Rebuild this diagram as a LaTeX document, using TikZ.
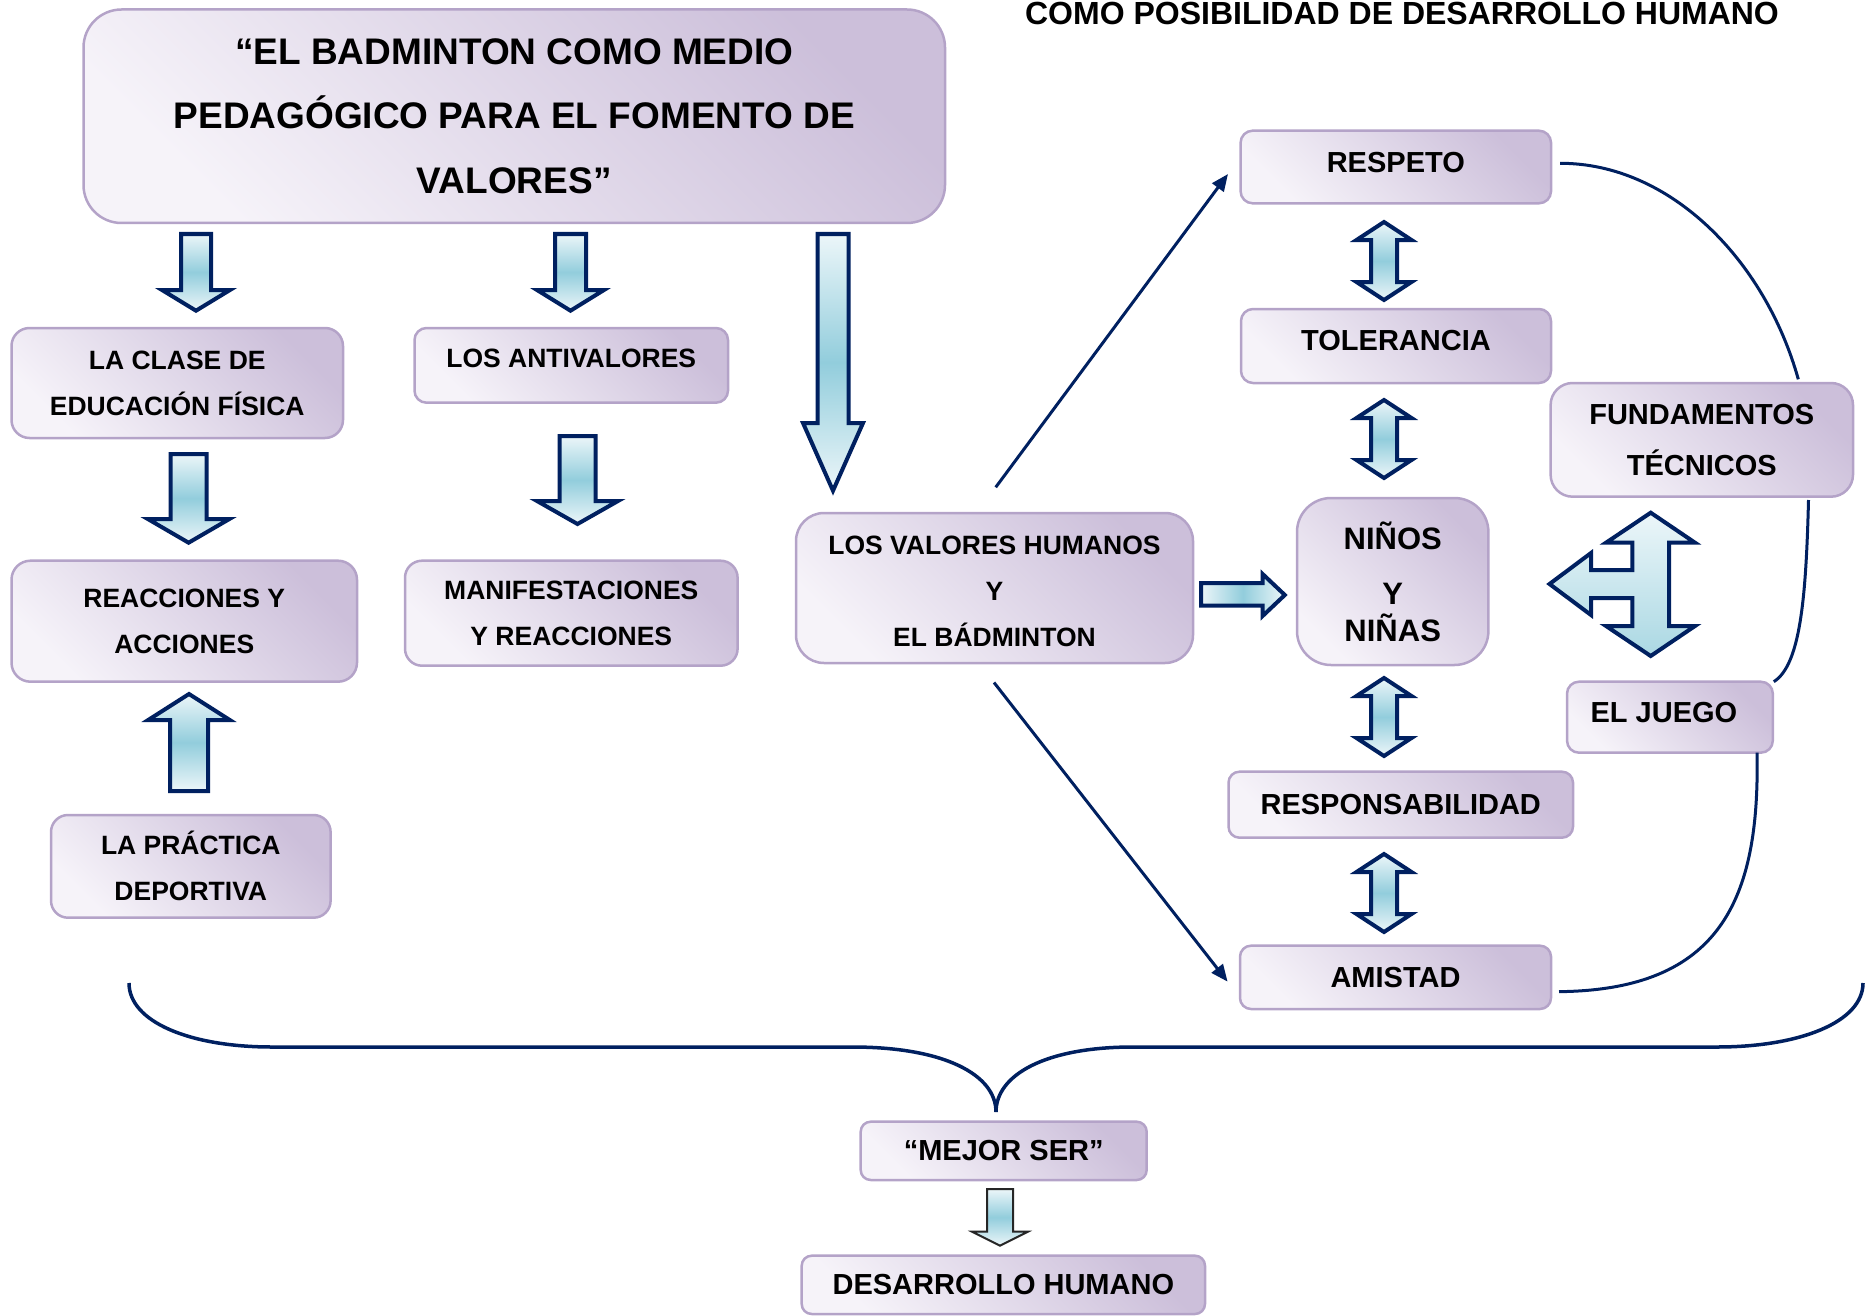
\documentclass[tikz,border=0pt]{standalone}
\usepackage{fontspec}
\setmainfont{Liberation Sans}
\usetikzlibrary{arrows.meta,calc}
\definecolor{navy}{RGB}{0,32,96}
\definecolor{boxdark}{RGB}{204,191,218}
\definecolor{boxlight}{RGB}{246,243,249}
\definecolor{boxline}{RGB}{180,163,200}
\definecolor{arrlight}{RGB}{236,246,249}
\definecolor{arrdark}{RGB}{146,205,220}
\definecolor{arrbot}{RGB}{170,216,227}
\newcommand\blkarr[6]{% cx, ybase, yheadbase, ytip, half shaft, half head
  \path[blk,vshade] (#1-#5,#2) -- (#1+#5,#2) -- (#1+#5,#3) -- (#1+#6,#3) -- (#1,#4)
    -- (#1-#6,#3) -- (#1-#5,#3) -- cycle;}
\newcommand\dblarr[2]{% cx, ytop
  \path[blk,vshade] (#1,#2) -- (#1+27.5,#2+18) -- (#1+13,#2+18) -- (#1+13,#2+60)
    -- (#1+27.5,#2+60) -- (#1,#2+78) -- (#1-27.5,#2+60) -- (#1-13,#2+60)
    -- (#1-13,#2+18) -- (#1-27.5,#2+18) -- cycle;}
\tikzset{
  box/.style={draw=boxline, line width=2.5pt, rounded corners=#1pt,
    top color=boxdark, bottom color=boxlight, shading angle=-45,
    inner sep=0pt, outer sep=0pt, align=center, text=black},
  size/.style 2 args={minimum width=#1pt, minimum height=#2pt},
  fa/.style={font=\fontsize{26.5}{46}\selectfont\bfseries},
  fb/.style={font=\fontsize{29}{40}\selectfont\bfseries},
  ftitle/.style={font=\fontsize{37}{64.5}\selectfont\bfseries},
  blk/.style={draw=navy, line width=4pt, line join=miter},
  vshade/.style={top color=arrlight, bottom color=arrlight, middle color=arrdark},
  hshade/.style={left color=arrlight, right color=arrlight, middle color=arrdark},
  conn/.style={draw=navy, line width=3pt},
  connarr/.style={conn, -{Triangle[length=17pt,width=14pt]}},
}
\begin{document}
\begin{tikzpicture}[x=1pt,y=-1pt]
\useasboundingbox (0,0) rectangle (1871,1316);

% header
\node[anchor=base, font=\fontsize{32}{38}\selectfont\bfseries] (header) at (1402,25)
  {COMO POSIBILIDAD DE DESARROLLO HUMANO};

% boxes
\node[box=38, size={861.5}{213.5}, ftitle] (title) at (514.25,116.25)
  {“EL BADMINTON COMO MEDIO\\PEDAGÓGICO PARA EL FOMENTO DE\\VALORES”};
\node[box=18, size={331.5}{110}, fa] (clase) at (177.25,383)
  {LA CLASE DE\\EDUCACIÓN FÍSICA};
\node[box=12, size={313.5}{74.7}, fa, text depth=14pt] (antival) at (571.25,365.35)
  {LOS ANTIVALORES};
\node[box=19, size={345.5}{121}, fa] (reacc) at (184.25,621.2)
  {REACCIONES Y\\ACCIONES};
\node[box=17, size={332.6}{105}, fa] (manif) at (571.3,613.2)
  {MANIFESTACIONES\\Y REACCIONES};
\node[box=28, size={397}{150}, fa] (valores) at (994.5,588)
  {\rule{0pt}{26pt}LOS VALORES HUMANOS\\Y\\EL BÁDMINTON};
\node[box=17, size={279.6}{102.7}, fa] (practica) at (190.8,866.35)
  {LA PRÁCTICA\\DEPORTIVA};
\node[box=12, size={310.4}{72.6}, fb, text depth=10pt] (respeto) at (1395.8,167)
  {RESPETO};
\node[box=12, size={310}{74}, fb, text depth=12pt] (toler) at (1396,346)
  {TOLERANCIA};
\node[box=34, size={191.4}{167}, font=\fontsize{31}{37}\selectfont\bfseries] (ninos) at (1392.7,581.5)
  {NIÑOS\\[18pt]Y\\NIÑAS};
\node[box=22, size={302.4}{113.7}, fb, font=\fontsize{29}{51}\selectfont\bfseries] (fund) at (1701.8,439.85)
  {FUNDAMENTOS\\TÉCNICOS};
\node[box=12, size={205.8}{71}, fb, text depth=10pt] (juego) at (1669.9,717.2)
  {EL JUEGO\hspace*{12pt}};
\node[box=11, size={344.5}{66}, fb] (respons) at (1400.75,804.7)
  {RESPONSABILIDAD};
\node[box=11, size={311}{63.3}, fb] (amistad) at (1395.5,977.35)
  {AMISTAD};
\node[box=10, size={286}{58.3}, fb] (mejor) at (1003.7,1150.85)
  {“MEJOR SER”};
\node[box=10, size={403.3}{58.3}, fb] (desarr) at (1003.35,1284.85)
  {DESARROLLO HUMANO};

% block arrows (down / up)
\blkarr{196}{234}{290}{310.7}{15}{34}
\blkarr{570.5}{234}{290}{310.7}{15.5}{33.5}
\blkarr{833}{234}{423}{490.7}{15.5}{30}
\blkarr{188.6}{454}{519}{542.7}{18}{40.8}
\blkarr{577.5}{436}{501}{524}{18}{40.5}
\blkarr{189}{791}{720}{694}{19}{40.8}
\begin{scope}[blk/.append style={draw=black!85, line width=2pt}]
\blkarr{1000}{1189}{1231.7}{1245.7}{13}{28}
\end{scope}

% double arrows
\dblarr{1384}{222}
\dblarr{1384}{400}
\dblarr{1384}{678}
\dblarr{1384}{854}

% right arrow valores -> ninos
\path[blk,hshade] (1201,583) -- (1262.6,583) -- (1262.6,574) -- (1284.8,595)
  -- (1262.6,616) -- (1262.6,605.7) -- (1201,605.7) -- cycle;

% three-way arrow
\path[blk, top color=arrlight, bottom color=arrbot]
  (1650.7,512.7) -- (1695,542.7) -- (1669,542.7) -- (1669,626) -- (1695,626)
  -- (1650.7,656) -- (1606,626) -- (1632.4,626) -- (1632.4,598) -- (1591,598)
  -- (1591,615) -- (1549.5,584) -- (1591,553) -- (1591,570) -- (1632.4,570)
  -- (1632.4,542.7) -- (1606,542.7) -- cycle;

% connectors
\draw[connarr] ($(valores.north)+(1.2,-25.7)$) -- ($(respeto.west)+(-12.6,7)$);
\draw[connarr] ($(valores.south)+(-0.5,19.5)$) -- ($(amistad.west)+(-12.4,4.3)$);
\draw[conn] ($(respeto.east)+(9,-3.7)$) .. controls (1670,163) and (1765,260) .. ($(fund.north)+(96.5,-3.7)$);
\draw[conn] ($(fund.south)+(106.7,3.3)$) .. controls (1806,600) and (1800,665) .. ($(juego.north)+(103.9,0)$);
\draw[conn] ($(juego.south)+(87.1,0)$) .. controls (1760,900) and (1720,990) .. ($(amistad.east)+(8,14.3)$);

% brace
\coordinate (bl) at (129,983);
\coordinate (br) at (1863,983);
\coordinate (btip) at (996,1112);
\draw[navy, line width=3.5pt] (bl) .. controls (129,1022) and (190,1047) .. (272,1047)
  -- (852,1047) .. controls (945,1047) and (996,1075) .. (btip)
  .. controls (996,1075) and (1045,1047) .. (1133,1047)
  -- (1717,1047) .. controls (1800,1047) and (1863,1022) .. (br);
\end{tikzpicture}
\end{document}
